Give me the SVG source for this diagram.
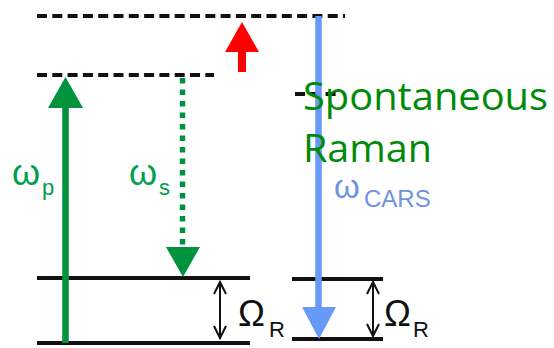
<svg xmlns="http://www.w3.org/2000/svg" width="554" height="348" viewBox="0 0 554 348">
  <style>
    .level { stroke: #111; stroke-width: 4; fill: none; }
    .virtual { stroke: #111; stroke-width: 4; fill: none; stroke-dasharray: 10 5.3; }
    .gap { stroke: #111; stroke-width: 2; fill: none; }
    .sym { font-family: "Liberation Sans", Arial, sans-serif; }
    .green-lbl { fill: #00a04a; }
    .blue-lbl { fill: #6f93e2; }
    .label { font-family: "Open Sans", "Liberation Sans", sans-serif; fill: #008a0a; font-size: 38px; }
  </style>

  <!-- energy levels -->
  <g id="virtual-upper">
    <line class="virtual" x1="37" y1="16" x2="345" y2="16"/>
  </g>
  <g id="virtual-lower">
    <line class="virtual" x1="37" y1="75" x2="214" y2="75"/>
  </g>
  <g id="virtual-raman">
    <line class="virtual" x1="295" y1="94" x2="338" y2="94"/>
  </g>
  <g id="cars-excited">
    <line class="level" x1="37" y1="278" x2="250" y2="278"/>
  </g>
  <g id="cars-ground">
    <line class="level" x1="37" y1="343" x2="250" y2="343"/>
  </g>
  <g id="raman-excited">
    <line class="level" x1="292" y1="279" x2="383" y2="279"/>
  </g>
  <g id="raman-ground">
    <line class="level" x1="292" y1="339" x2="383" y2="339"/>
  </g>

  <!-- transitions -->
  <g id="connectors">
    <!-- pump -->
    <line x1="65.5" y1="106" x2="65.5" y2="343" stroke="#00923d" stroke-width="6.5"/>
    <polygon points="48,108 83,108 65.5,77" fill="#00923d"/>
    <!-- Stokes -->
    <line x1="182.5" y1="78" x2="182.5" y2="247" stroke="#00923d" stroke-width="5.5" stroke-dasharray="5.5 6"/>
    <polygon points="166,247 200,247 183,277" fill="#00923d"/>
    <!-- probe (red) -->
    <line x1="242" y1="50" x2="242" y2="72" stroke="#ff0000" stroke-width="8"/>
    <polygon points="225,52 259,52 242,22" fill="#ff0000"/>
    <!-- anti-Stokes emission -->
    <line x1="318.5" y1="16" x2="318.5" y2="309" stroke="#6699f8" stroke-width="6.5"/>
    <polygon points="302,307 336,307 319,339" fill="#6699f8"/>
    <!-- vibrational spacing markers -->
    <line class="gap" x1="220" y1="282" x2="220" y2="339"/>
    <polyline class="gap" points="214,294 220,282 226,294"/>
    <polyline class="gap" points="214,326 220,338 226,326"/>
    <line class="gap" x1="373" y1="282" x2="373" y2="336"/>
    <polyline class="gap" points="367,294 373,282 379,294"/>
    <polyline class="gap" points="367,324 373,336 379,324"/>
  </g>

  <!-- labels -->
  <g id="label-pump" class="sym green-lbl">
    <text x="12" y="185" font-size="36">ω</text>
    <text x="42" y="195" font-size="22">p</text>
  </g>
  <g id="label-stokes" class="sym green-lbl">
    <text x="129" y="185" font-size="36">ω</text>
    <text x="159" y="195" font-size="22">s</text>
  </g>
  <g id="label-cars" class="sym blue-lbl">
    <text x="334" y="198" font-size="33">ω</text>
    <text x="364" y="207" font-size="24">CARS</text>
  </g>
  <g id="label-omega-left" class="sym" fill="#111">
    <text x="238" y="326" font-size="36">Ω</text>
    <text x="269" y="337" font-size="22">R</text>
  </g>
  <g id="label-omega-right" class="sym" fill="#111">
    <text x="384" y="326" font-size="36">Ω</text>
    <text x="413" y="337" font-size="22">R</text>
  </g>
  <g id="title">
    <text class="label" x="303" y="110" textLength="245" lengthAdjust="spacingAndGlyphs">Spontaneous</text>
    <text class="label" x="303" y="162" textLength="129" lengthAdjust="spacingAndGlyphs">Raman</text>
  </g>
</svg>
